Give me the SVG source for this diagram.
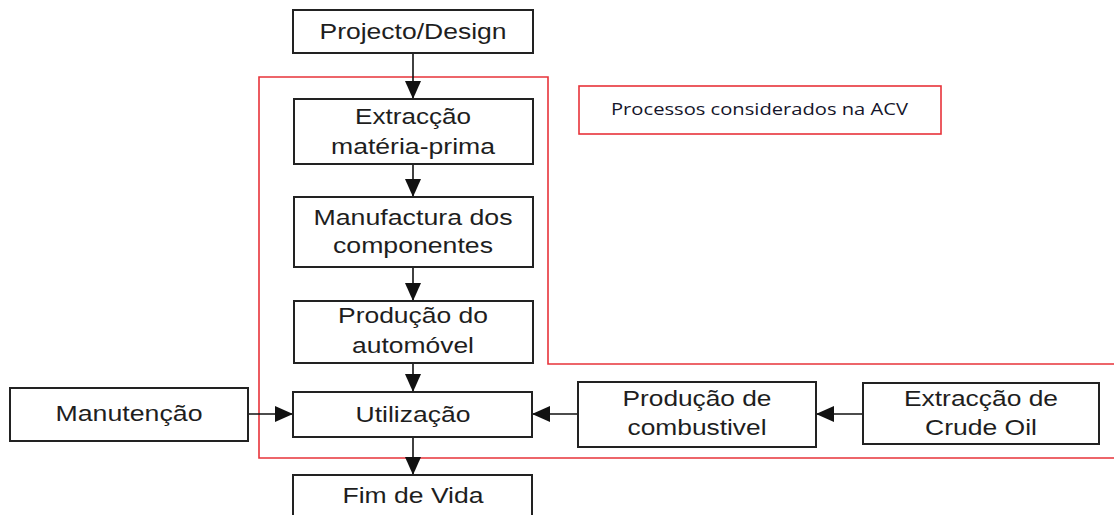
<svg xmlns="http://www.w3.org/2000/svg" width="1114" height="515" viewBox="0 0 1114 515">
<style>
.box{fill:#fff;stroke:#222;stroke-width:2}
.t{font-family:"Liberation Sans",Arial,sans-serif;font-size:22.5px;fill:#1e1e1e;text-anchor:middle}
.con{stroke:#111;stroke-width:1.6;fill:none;marker-end:url(#ah)}
.red{fill:none;stroke:#e8333a;stroke-width:1.6}
.leg{font-family:"Open Sans","DejaVu Sans",sans-serif;font-size:16px;fill:#15152a}
</style>
<defs>
<marker id="ah" viewBox="0 0 18 16" refX="18" refY="8" markerWidth="18" markerHeight="16" markerUnits="userSpaceOnUse" orient="auto">
<path d="M0,0 L18,8 L0,16 z" fill="#111"/>
</marker>
</defs>
<rect width="1114" height="515" fill="#fff"/>
<g id="scope">
<path class="red" d="M1116,364 H548 V77 H259 V458 H1116"/>
</g>
<g id="legend">
<rect x="579" y="86" width="362" height="48" fill="#fff" stroke="#e8333a" stroke-width="1.6"/>
<text class="leg" x="611" y="115" textLength="297" lengthAdjust="spacingAndGlyphs">Processos considerados na ACV</text>
</g>
<g id="connectors">
<line class="con" x1="413" y1="53" x2="413" y2="99"/>
<line class="con" x1="413" y1="164" x2="413" y2="197"/>
<line class="con" x1="413" y1="267" x2="413" y2="301"/>
<line class="con" x1="413" y1="363" x2="413" y2="392"/>
<line class="con" x1="413" y1="437" x2="413" y2="475"/>
<line class="con" x1="248" y1="414" x2="293" y2="414"/>
<line class="con" x1="578" y1="414" x2="532" y2="414"/>
<line class="con" x1="863" y1="414" x2="816" y2="414"/>
</g>
<g id="projecto">
<rect class="box" x="293" y="10" width="240" height="43"/>
<text class="t" x="413" y="39" textLength="187" lengthAdjust="spacingAndGlyphs">Projecto/Design</text>
</g>
<g id="extraccao">
<rect class="box" x="294" y="99" width="239" height="65"/>
<text class="t" x="413" y="124" textLength="116" lengthAdjust="spacingAndGlyphs">Extracção</text>
<text class="t" x="413" y="154" textLength="164" lengthAdjust="spacingAndGlyphs">matéria-prima</text>
</g>
<g id="manufactura">
<rect class="box" x="294" y="197" width="239" height="70"/>
<text class="t" x="413" y="225" textLength="199" lengthAdjust="spacingAndGlyphs">Manufactura dos</text>
<text class="t" x="413" y="253" textLength="160" lengthAdjust="spacingAndGlyphs">componentes</text>
</g>
<g id="producao-auto">
<rect class="box" x="294" y="301" width="239" height="62"/>
<text class="t" x="413" y="323" textLength="150" lengthAdjust="spacingAndGlyphs">Produção do</text>
<text class="t" x="413" y="353" textLength="122" lengthAdjust="spacingAndGlyphs">automóvel</text>
</g>
<g id="utilizacao">
<rect class="box" x="293" y="392" width="239" height="45"/>
<text class="t" x="413" y="422" textLength="115" lengthAdjust="spacingAndGlyphs">Utilização</text>
</g>
<g id="fim">
<rect class="box" x="293" y="475" width="239" height="50"/>
<text class="t" x="413" y="503" textLength="141" lengthAdjust="spacingAndGlyphs">Fim de Vida</text>
</g>
<g id="manutencao">
<rect class="box" x="10" y="388" width="238" height="53"/>
<text class="t" x="129" y="421" textLength="147" lengthAdjust="spacingAndGlyphs">Manutenção</text>
</g>
<g id="combustivel">
<rect class="box" x="578" y="382" width="238" height="65"/>
<text class="t" x="697" y="406" textLength="149" lengthAdjust="spacingAndGlyphs">Produção de</text>
<text class="t" x="697" y="435" textLength="139" lengthAdjust="spacingAndGlyphs">combustivel</text>
</g>
<g id="crude">
<rect class="box" x="863" y="383" width="236" height="61"/>
<text class="t" x="981" y="406" textLength="154" lengthAdjust="spacingAndGlyphs">Extracção de</text>
<text class="t" x="981" y="435" textLength="112" lengthAdjust="spacingAndGlyphs">Crude Oil</text>
</g>
</svg>
